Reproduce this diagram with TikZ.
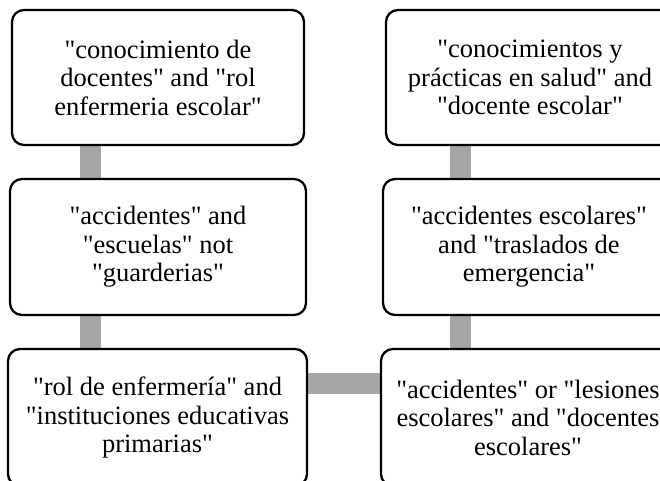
\documentclass[tikz,border=0pt]{standalone}
\usepackage{fontspec}
\setmainfont{Liberation Serif}[Ligatures=TeXOff]
\usetikzlibrary{backgrounds}
\definecolor{connGray}{RGB}{166,166,166}
\begin{document}
\begin{tikzpicture}[x=1pt,y=-1pt,
  box/.style={draw=black, line width=2.3pt, rounded corners=12pt, fill=white,
    align=center, inner sep=0pt, font=\fontsize{26.5}{28.5}\selectfont},
  conn/.style={draw=connGray, line width=21pt}]
\useasboundingbox (0,0) rectangle (660,480);
\clip (0,0) rectangle (660,480);
\node[box, minimum width=292pt, minimum height=135pt] (tl) at (158,77.5)
  {"conocimiento de\\docentes" and "rol\\enfermeria escolar"};
\node[box, minimum width=296pt, minimum height=136pt] (ml) at (158,247)
  {"accidentes" and\\"escuelas" not\\"guarderias"};
\node[box, minimum width=299pt, minimum height=137pt] (bl) at (157.5,417.5)
  {"rol de enfermería" and\\"instituciones educativas\\primarias"};
\node[box, minimum width=288pt, minimum height=135pt] (tr) at (530,77.5)
  {"conocimientos y\\prácticas en salud" and\\"docente escolar"};
\node[box, minimum width=292pt, minimum height=136pt] (mr) at (529,247)
  {"accidentes escolares"\\and "traslados de\\emergencia"};
\node[box, minimum width=294pt, minimum height=137pt] (br) at (528,417.5)
  {"accidentes" or "lesiones\\escolares" and "docentes\\escolares"};
\coordinate (cl) at (90.5,0);
\coordinate (cr) at (460.5,0);
\coordinate (ch) at (0,383);
\begin{scope}[on background layer]
\draw[conn] (tl.south -| cl) -- (ml.north -| cl);
\draw[conn] (ml.south -| cl) -- (bl.north -| cl);
\draw[conn] (tr.south -| cr) -- (mr.north -| cr);
\draw[conn] (mr.south -| cr) -- (br.north -| cr);
\draw[conn] (bl.east |- ch) -- (br.west |- ch);
\end{scope}
\end{tikzpicture}
\end{document}
